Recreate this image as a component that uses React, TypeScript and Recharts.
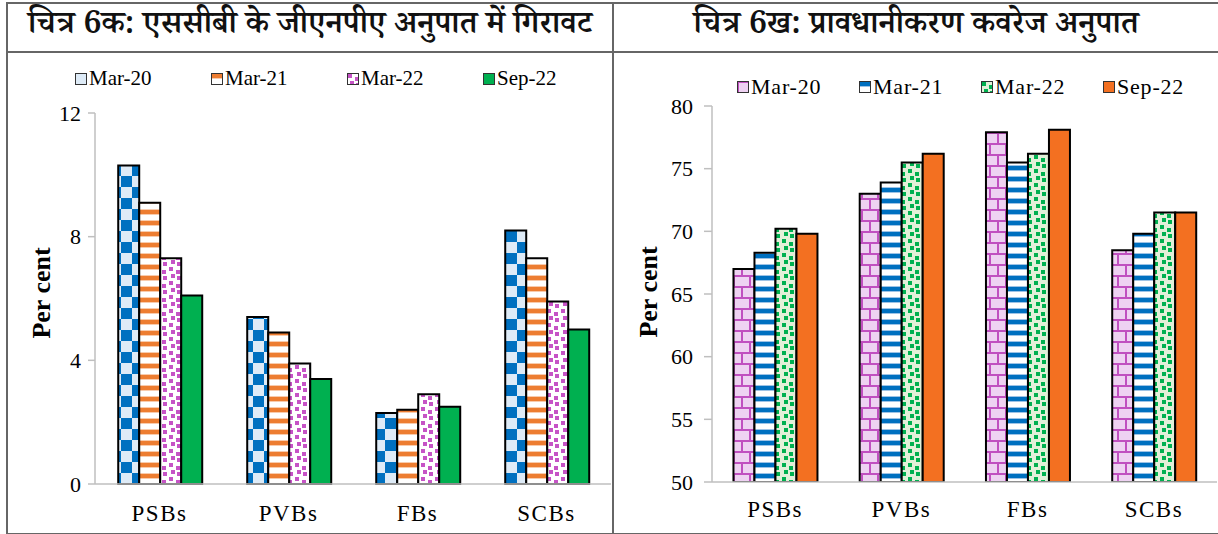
import React from 'react';
import { Bar, BarChart, Legend, XAxis, YAxis } from 'recharts';

const categories = ['PSBs', 'PVBs', 'FBs', 'SCBs'];
const seriesNames = ['Mar-20', 'Mar-21', 'Mar-22', 'Sep-22'];

// chart 6a - GNPA ratio (per cent)
const gnpaMar20 = [10.3, 5.4, 2.3, 8.2];
const gnpaMar21 = [9.1, 4.9, 2.4, 7.3];
const gnpaMar22 = [7.3, 3.9, 2.9, 5.9];
const gnpaSep22 = [6.1, 3.4, 2.5, 5.0];
const gnpaTicks = [0, 4, 8, 12];

// chart 6b - provision coverage ratio (per cent)
const pcrMar20 = [67.0, 73.0, 77.9, 68.5];
const pcrMar21 = [68.3, 73.9, 75.5, 69.8];
const pcrMar22 = [70.2, 75.5, 76.2, 71.5];
const pcrSep22 = [69.8, 76.2, 78.1, 71.5];
const pcrTicks = [50, 55, 60, 65, 70, 75, 80];

const titleA = 'चित्र 6क: एससीबी के जीएनपीए अनुपात में गिरावट';
const titleB = 'चित्र 6ख: प्रावधानीकरण कवरेज अनुपात';

const gnpaData = categories.map((name, i) => ({
  name,
  s0: gnpaMar20[i],
  s1: gnpaMar21[i],
  s2: gnpaMar22[i],
  s3: gnpaSep22[i],
}));

const pcrData = categories.map((name, i) => ({
  name,
  s0: pcrMar20[i],
  s1: pcrMar21[i],
  s2: pcrMar22[i],
  s3: pcrSep22[i],
}));

const serif = '"Liberation Serif", "Times New Roman", serif';
const deva = '"Noto Serif Devanagari", "Noto Sans Devanagari", "Lohit Devanagari", "Liberation Serif", serif';
const axisGrey = '#BFBFBF';

const fillsA = ['url(#checkBlue)', 'url(#stripeOrange)', 'url(#dotPink)', '#00B050'];
const fillsB = ['url(#brickPink)', 'url(#stripeBlue)', 'url(#dotGreen)', '#F37021'];

function PatternDefs() {
  return (
    <svg width={0} height={0} style={{ position: 'absolute' }}>
      <defs>
        <pattern id="checkBlue" width={22} height={22} patternUnits="userSpaceOnUse">
          <rect width={22} height={22} fill="#DEEBF7" />
          <rect x={11} y={0} width={11} height={11} fill="#0070C0" />
          <rect x={0} y={11} width={11} height={11} fill="#0070C0" />
        </pattern>
        <pattern id="stripeOrange" width={11} height={11} patternUnits="userSpaceOnUse">
          <rect width={11} height={11} fill="#fff" />
          <rect y={0} width={11} height={1} fill="#F8CBAD" />
          <rect y={1} width={11} height={4} fill="#ED7D31" />
          <rect y={5} width={11} height={1} fill="#F8CBAD" />
        </pattern>
        <pattern id="dotPink" width={14} height={14} patternUnits="userSpaceOnUse">
          <rect width={14} height={14} fill="#fff" />
          <rect x={1} y={1} width={4} height={4} fill="#C653C6" />
          <rect x={8} y={4} width={4} height={4} fill="#C653C6" />
          <rect x={3} y={8} width={4} height={4} fill="#C653C6" />
          <rect x={9} y={10} width={4} height={4} fill="#C653C6" />
        </pattern>
        <pattern id="brickPink" width={16} height={22} patternUnits="userSpaceOnUse">
          <rect width={16} height={22} fill="#EED2F2" />
          <rect y={0} width={16} height={2} fill="#C050C0" />
          <rect y={11} width={16} height={2} fill="#C050C0" />
          <rect x={0} y={0} width={2} height={11} fill="#C050C0" />
          <rect x={8} y={11} width={2} height={11} fill="#C050C0" />
        </pattern>
        <pattern id="stripeBlue" width={11} height={11} patternUnits="userSpaceOnUse">
          <rect width={11} height={11} fill="#fff" />
          <rect y={0} width={11} height={1} fill="#9DC3E6" />
          <rect y={1} width={11} height={4} fill="#0070C0" />
          <rect y={5} width={11} height={1} fill="#9DC3E6" />
        </pattern>
        <pattern id="dotGreen" width={14} height={14} patternUnits="userSpaceOnUse">
          <rect width={14} height={14} fill="#E2F0D9" />
          <rect x={1} y={1} width={4} height={4} fill="#00B050" />
          <rect x={8} y={4} width={4} height={4} fill="#00B050" />
          <rect x={3} y={8} width={4} height={4} fill="#00B050" />
          <rect x={9} y={10} width={4} height={4} fill="#00B050" />
        </pattern>
      </defs>
    </svg>
  );
}

function makeLegend(fills: string[], itemWidth: number, fontSize: number, spacing: number) {
  return function LegendContent() {
    return (
      <div style={{ display: 'flex', fontFamily: serif, fontSize, letterSpacing: spacing, color: '#000' }}>
        {seriesNames.map((n, i) => (
          <div key={n} style={{ width: itemWidth, display: 'flex', alignItems: 'center' }}>
            <svg width={12} height={12} style={{ marginRight: 2 }}>
              <rect x={0.5} y={0.5} width={11} height={11} fill={fills[i]} stroke="#333" strokeWidth={1} />
            </svg>
            <span>{n}</span>
          </div>
        ))}
      </div>
    );
  };
}

function percentLabel(x: number, y: number) {
  return () => (
    <text
      x={x}
      y={y}
      transform={`rotate(-90 ${x} ${y})`}
      textAnchor="middle"
      dominantBaseline="central"
      fontFamily={serif}
      fontWeight="bold"
      fontSize={26}
      fill="#000"
    >
      Per cent
    </text>
  );
}

const yTickStyle = { fill: '#000', fontSize: 22, fontFamily: serif };
const xTickStyle = { fill: '#000', fontSize: 23, fontFamily: serif, letterSpacing: 1.5 };

const titleStyle: React.CSSProperties = {
  position: 'absolute',
  top: 4,
  width: 604,
  height: 47,
  display: 'flex',
  alignItems: 'center',
  justifyContent: 'center',
  fontFamily: deva,
  fontSize: 32,
  fontWeight: 600,
  color: '#111',
  whiteSpace: 'nowrap',
};

export default function App() {
  return (
    <div
      style={{
        position: 'absolute',
        left: 0,
        top: 0,
        width: 1218,
        height: 534,
        background: '#fff',
        overflow: 'hidden',
      }}
    >
      <PatternDefs />

      {/* chart 6a */}
      <div style={{ position: 'absolute', left: 0, top: 0 }}>
        <BarChart
          width={613}
          height={534}
          data={gnpaData}
          margin={{ top: 113, right: 2, bottom: 20, left: 0 }}
          barCategoryGap="18%"
          barGap={0}
        >
          <XAxis
            dataKey="name"
            height={30}
            stroke={axisGrey}
            strokeWidth={1.5}
            tickLine={false}
            tickSize={6}
            tickMargin={15}
            tick={xTickStyle}
          />
          <YAxis
            width={95}
            domain={[0, 12]}
            ticks={gnpaTicks}
            interval={0}
            stroke={axisGrey}
            strokeWidth={1.5}
            tickSize={7}
            tickMargin={7}
            tick={yTickStyle}
            label={percentLabel(41, 293)}
          />
          <Legend
            layout="horizontal"
            verticalAlign="middle"
            align="center"
            content={makeLegend(fillsA, 136, 21, 0)}
            wrapperStyle={{ top: 66, left: 75, width: 560 }}
          />
          {seriesNames.map((n, i) => (
            <Bar
              key={n}
              dataKey={`s${i}`}
              name={n}
              fill={fillsA[i]}
              stroke="#000"
              strokeWidth={2}
              isAnimationActive={false}
            />
          ))}
        </BarChart>
      </div>

      {/* chart 6b */}
      <div style={{ position: 'absolute', left: 613, top: 0 }}>
        <BarChart
          width={605}
          height={534}
          data={pcrData}
          margin={{ top: 106, right: 1, bottom: 22, left: 0 }}
          barCategoryGap="17%"
          barGap={0}
        >
          <XAxis
            dataKey="name"
            height={30}
            stroke={axisGrey}
            strokeWidth={1.5}
            tickLine={false}
            tickSize={6}
            tickMargin={13}
            tick={xTickStyle}
          />
          <YAxis
            width={99}
            domain={[50, 80]}
            ticks={pcrTicks}
            interval={0}
            allowDataOverflow
            stroke={axisGrey}
            strokeWidth={1.5}
            tickSize={8}
            tickMargin={11}
            tick={yTickStyle}
            label={percentLabel(35, 292)}
          />
          <Legend
            layout="horizontal"
            verticalAlign="middle"
            align="center"
            content={makeLegend(fillsB, 122, 22, 0.8)}
            wrapperStyle={{ top: 74, left: 124, width: 500 }}
          />
          {seriesNames.map((n, i) => (
            <Bar
              key={n}
              dataKey={`s${i}`}
              name={n}
              fill={fillsB[i]}
              stroke="#000"
              strokeWidth={2}
              isAnimationActive={false}
            />
          ))}
        </BarChart>
      </div>

      {/* frame and titles */}
      <div style={{ position: 'absolute', left: 6, top: 2, width: 1230, height: 529, border: '2px solid #666', pointerEvents: 'none' }} />
      <div style={{ position: 'absolute', left: 6, top: 51, width: 1230, height: 0, borderTop: '2px solid #666' }} />
      <div style={{ position: 'absolute', left: 612, top: 2, width: 0, height: 531, borderLeft: '2px solid #666' }} />
      <div style={{ ...titleStyle, left: 8 }}>{titleA}</div>
      <div style={{ ...titleStyle, left: 614 }}>{titleB}</div>
    </div>
  );
}
